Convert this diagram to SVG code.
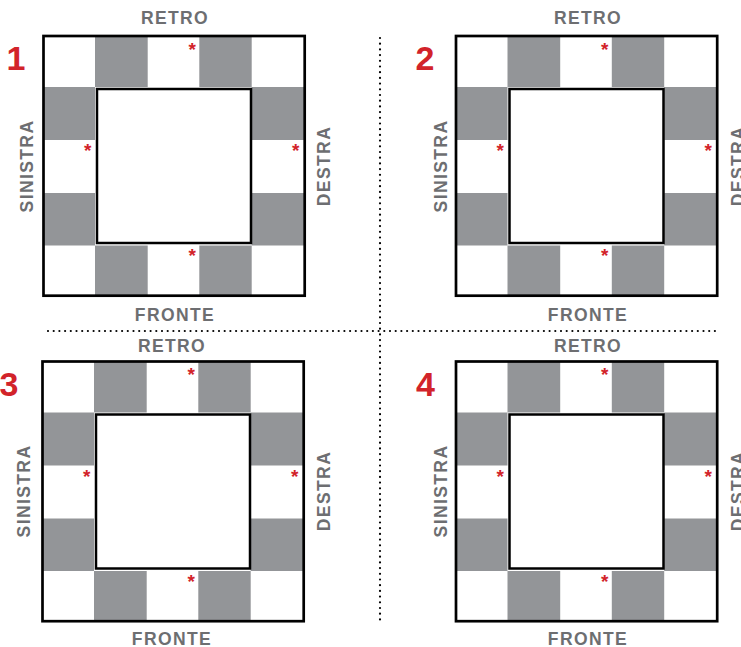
<svg xmlns="http://www.w3.org/2000/svg" xmlns:xlink="http://www.w3.org/1999/xlink" width="741" height="647" viewBox="0 0 741 647">
<style>
.lbl{font-family:"Liberation Sans",Arial,sans-serif;font-weight:bold;font-size:17.5px;fill:#6d6e71;letter-spacing:1.4px;text-anchor:middle}
.num{font-family:"Liberation Sans",Arial,sans-serif;font-weight:bold;font-size:34px;fill:#d2232a;text-anchor:middle}
.ast{font-family:"Liberation Sans",Arial,sans-serif;font-weight:bold;font-size:19px;fill:#d2232a;text-anchor:middle}
.gray{fill:#939598}
.frame{fill:none;stroke:#000;stroke-width:2.7}
.inner{fill:#fff;stroke:#000;stroke-width:2.5}
.dot{fill:none;stroke:#000;stroke-width:2.2;stroke-linecap:round;stroke-dasharray:0 5.7}
</style>
<defs>
<g id="board">
<rect x="0" y="0" width="261" height="260" fill="#fff"/>
<rect class="gray" x="51.5" y="0" width="52.7" height="51"/>
<rect class="gray" x="155.8" y="0" width="52.4" height="51"/>
<rect class="gray" x="0" y="51" width="51.5" height="53"/>
<rect class="gray" x="208.2" y="51" width="53" height="53"/>
<rect class="gray" x="0" y="157" width="51.5" height="52.5"/>
<rect class="gray" x="208.2" y="157" width="53" height="52.5"/>
<rect class="gray" x="51.5" y="209.5" width="52.7" height="50.2"/>
<rect class="gray" x="155.8" y="209.5" width="52.4" height="50.2"/>
<rect class="frame" x="0" y="0" width="261.2" height="259.7"/>
<rect class="inner" x="53.5" y="53" width="154" height="154"/>
<text class="ast" x="148.8" y="19.5">*</text>
<text class="ast" x="44.3" y="121">*</text>
<text class="ast" x="252.3" y="121">*</text>
<text class="ast" x="148.8" y="226">*</text>
</g>
</defs>
<g id="connectors">
<line class="dot" x1="380" y1="38" x2="380" y2="621"/>
<line class="dot" x1="48" y1="331" x2="720" y2="331"/>
</g>
<g id="panel-1">
<use xlink:href="#board" href="#board" transform="translate(43.5,36)"/>
<text class="num" x="16" y="69.5">1</text>
<text class="lbl" x="175" y="24">RETRO</text>
<text class="lbl" x="175" y="320.5">FRONTE</text>
<text class="lbl" transform="translate(33,166) rotate(-90)">SINISTRA</text>
<text class="lbl" transform="translate(330,166) rotate(-90)">DESTRA</text>
</g>
<g id="panel-2">
<use xlink:href="#board" href="#board" transform="translate(456,36)"/>
<text class="num" x="425" y="69.5">2</text>
<text class="lbl" x="588" y="24">RETRO</text>
<text class="lbl" x="588" y="320.5">FRONTE</text>
<text class="lbl" transform="translate(446.5,166) rotate(-90)">SINISTRA</text>
<text class="lbl" transform="translate(744,166) rotate(-90)">DESTRA</text>
</g>
<g id="panel-3">
<use xlink:href="#board" href="#board" transform="translate(42.5,361.5)"/>
<text class="num" x="9" y="395.5">3</text>
<text class="lbl" x="172" y="351.5">RETRO</text>
<text class="lbl" x="172" y="645">FRONTE</text>
<text class="lbl" transform="translate(29.5,491) rotate(-90)">SINISTRA</text>
<text class="lbl" transform="translate(330,491) rotate(-90)">DESTRA</text>
</g>
<g id="panel-4">
<use xlink:href="#board" href="#board" transform="translate(456,361.5)"/>
<text class="num" x="425.5" y="395.5">4</text>
<text class="lbl" x="588" y="351.5">RETRO</text>
<text class="lbl" x="588" y="645">FRONTE</text>
<text class="lbl" transform="translate(446.5,491) rotate(-90)">SINISTRA</text>
<text class="lbl" transform="translate(744,491) rotate(-90)">DESTRA</text>
</g>
</svg>
